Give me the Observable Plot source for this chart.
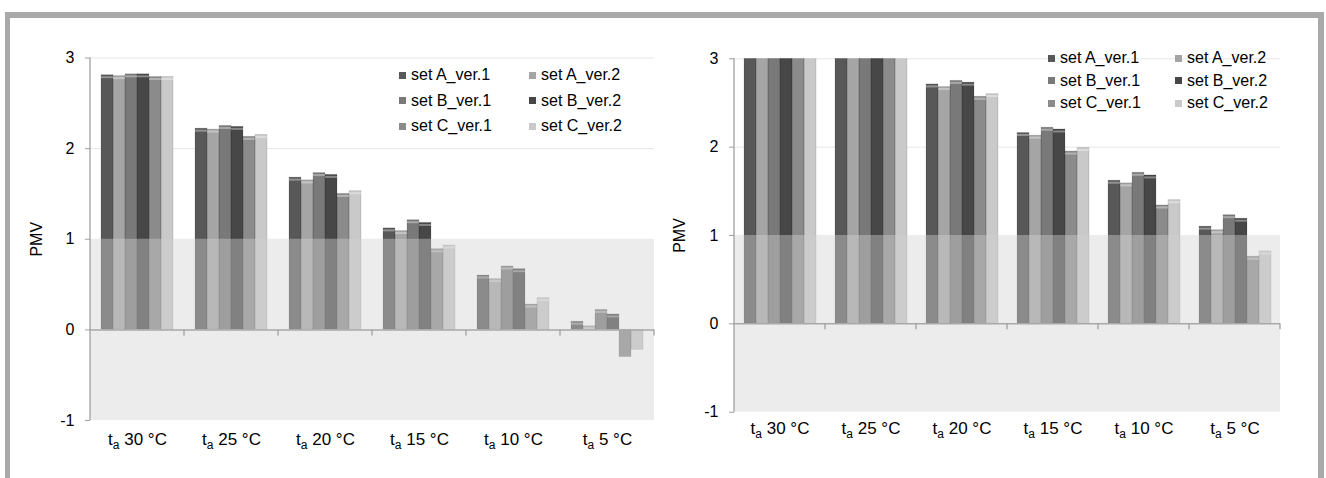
<!DOCTYPE html>
<html>
<head>
<meta charset="utf-8">
<script src="https://cdn.jsdelivr.net/npm/d3@7"></script>
<script src="https://cdn.jsdelivr.net/npm/@observablehq/plot@0.6"></script>
<style>
  html, body { margin: 0; padding: 0; background: #fff; }
  #wrap { position: relative; width: 1326px; height: 478px; overflow: hidden; font-family: "Liberation Sans", Arial, sans-serif; }
  .bar { position: absolute; background: #a9a9a9; }
  .panel { position: absolute; top: 0; }
  .legend-item { position: absolute; display: flex; align-items: center; height: 20px; font-size: 16px; color: #000; white-space: nowrap; }
  .legend-item span.sw { display: inline-block; width: 7px; height: 7px; margin-right: 5px; }
</style>
</head>
<body>
<div id="wrap">
  <div class="bar" style="left:5px;top:12px;width:1319px;height:6px"></div>
  <div class="bar" style="left:5px;top:12px;width:5px;height:466px"></div>
  <div class="bar" style="left:1318px;top:12px;width:6px;height:466px"></div>
  <div class="panel" id="left" style="left:0px"></div>
  <div class="panel" id="right" style="left:660px"></div>
</div>
<script>
// ---- data ----
const categories = ["30 °C", "25 °C", "20 °C", "15 °C", "10 °C", "5 °C"];
const seriesNames = ["set A_ver.1", "set A_ver.2", "set B_ver.1", "set B_ver.2", "set C_ver.1", "set C_ver.2"];
const seriesColors = ["#585858", "#a5a5a5", "#797979", "#474747", "#8b8b8b", "#c9c9c9"];
const yTicks = [-1, 0, 1, 2, 3];
const yLabel = "PMV";

// left chart (PMV per air temperature)
const leftA1 = [2.81, 2.22, 1.68, 1.12, 0.60, 0.09];
const leftA2 = [2.80, 2.21, 1.65, 1.09, 0.56, 0.04];
const leftB1 = [2.82, 2.25, 1.73, 1.21, 0.70, 0.22];
const leftB2 = [2.82, 2.24, 1.71, 1.18, 0.67, 0.17];
const leftC1 = [2.79, 2.13, 1.50, 0.89, 0.28, -0.30];
const leftC2 = [2.79, 2.15, 1.53, 0.93, 0.35, -0.22];

// right chart (values for 30 and 25 °C exceed the axis and are clipped at 3)
const rightA1 = [3.80, 3.25, 2.71, 2.16, 1.62, 1.10];
const rightA2 = [3.75, 3.20, 2.68, 2.13, 1.59, 1.06];
const rightB1 = [3.85, 3.30, 2.75, 2.22, 1.71, 1.23];
const rightB2 = [3.85, 3.30, 2.73, 2.20, 1.68, 1.19];
const rightC1 = [3.70, 3.15, 2.57, 1.95, 1.34, 0.76];
const rightC2 = [3.70, 3.15, 2.60, 1.99, 1.40, 0.82];

function rows(arrays) {
  const out = [];
  categories.forEach((c, i) => seriesNames.forEach((s, j) => out.push({cat: c, series: s, value: arrays[j][i]})));
  return out;
}

function makeChart(data, cfg) {
  const plot = Plot.plot({
    width: cfg.width, height: cfg.height,
    marginLeft: cfg.ml, marginRight: cfg.mr, marginTop: cfg.mt, marginBottom: cfg.mb,
    style: {fontFamily: '"Liberation Sans", Arial, sans-serif', fontSize: "16px", color: "#000", background: "transparent", overflow: "visible"},
    fx: {domain: categories, padding: 0, axis: null, label: null},
    x: {domain: seriesNames, paddingInner: 0, paddingOuter: 0.7, axis: null, label: null},
    y: {domain: [-1, 3], axis: null, label: null},
    color: {domain: seriesNames, range: seriesColors},
    marks: [
      Plot.gridY([2, 3], {stroke: "#e6e6e6", strokeOpacity: 1}),
      Plot.barY(data, {fx: "cat", x: "series", y: "value", fill: "series", clip: true}),
      Plot.barY(data, {fx: "cat", x: "series", y: "value", fill: "none", stroke: "#000", strokeOpacity: 0.12, clip: true}),
      Plot.tickY(data.filter(d => d.value > 0 && d.value < 3), {fx: "cat", x: "series", y: "value", stroke: "#fff", strokeOpacity: 0.35, strokeWidth: 2, dy: 2}),
      Plot.rect([0], {y1: -1, y2: 1, fill: "#d2d2d2", fillOpacity: 0.42}),
      Plot.ruleY([0], {stroke: "#a8a8a8", strokeWidth: 1.5}),
      Plot.axisY(yTicks, {tickSize: 5, tickPadding: 11, stroke: "#a0a0a0", tickFormat: d => String(d), label: yLabel, labelAnchor: "center", labelOffset: cfg.labelOffset, labelArrow: "none"}),
      Plot.axisFx({anchor: "bottom", tickSize: 0, tickPadding: cfg.xPad, fontSize: 17, tickFormat: d => "ta " + d, label: null})
    ]
  });
  const svg = d3.select(plot);
  // subscript "a" in the category labels
  svg.selectAll('g[aria-label="fx-axis tick label"] text').each(function () {
    const t = this.textContent;
    const el = d3.select(this);
    el.text(null);
    el.append("tspan").text("t");
    el.append("tspan").attr("font-size", "12px").attr("dy", "4").text("a");
    el.append("tspan").attr("dy", "-4").text(t.slice(2));
  });
  // axis line and category boundary ticks from the library's scales
  const fx = plot.scale("fx"), y = plot.scale("y");
  const g = svg.append("g").attr("stroke", "#a0a0a0").attr("stroke-width", 1.3);
  const x0 = fx.apply(categories[0]);
  g.append("line").attr("x1", x0).attr("x2", x0).attr("y1", y.apply(-1)).attr("y2", y.apply(3));
  categories.forEach(c => {
    const xe = fx.apply(c) + fx.bandwidth;
    g.append("line").attr("x1", xe).attr("x2", xe).attr("y1", y.apply(0)).attr("y2", y.apply(0) + 6);
  });
  return plot;
}

function legend(container, colX, rowY) {
  seriesNames.forEach((s, i) => {
    const item = document.createElement("div");
    item.className = "legend-item";
    item.style.left = colX[i % 2] + "px";
    item.style.top = (rowY[Math.floor(i / 2)] - 10) + "px";
    const sw = document.createElement("span");
    sw.className = "sw";
    sw.style.background = seriesColors[i];
    item.appendChild(sw);
    item.appendChild(document.createTextNode(s));
    container.appendChild(item);
  });
}

const leftEl = document.getElementById("left");
leftEl.appendChild(makeChart(rows([leftA1, leftA2, leftB1, leftB2, leftC1, leftC2]),
  {width: 660, height: 470, ml: 89, mr: 6, mt: 57.5, mb: 50, labelOffset: 60, xPad: 12}));
legend(leftEl, [399, 529], [75, 100.5, 126]);

const rightEl = document.getElementById("right");
rightEl.appendChild(makeChart(rows([rightA1, rightA2, rightB1, rightB2, rightC1, rightC2]),
  {width: 666, height: 460, ml: 72, mr: 43.5, mt: 58.3, mb: 48.3, labelOffset: 61, xPad: 10}));
legend(rightEl, [388, 515], [58.3, 80.7, 103.3]);
</script>
</body>
</html>
